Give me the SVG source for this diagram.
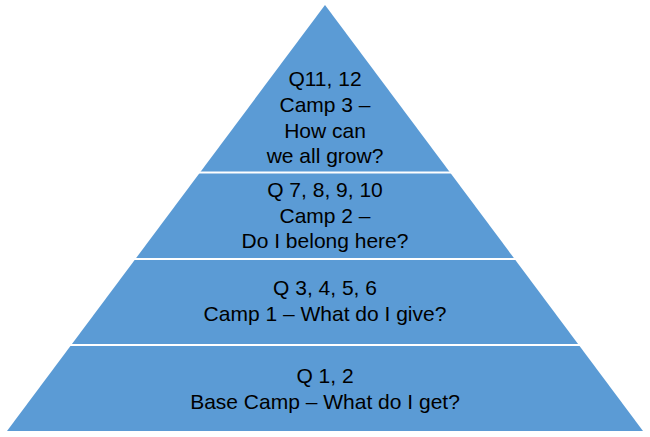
<svg xmlns="http://www.w3.org/2000/svg" width="650" height="437" viewBox="0 0 650 437">
<style>
.lvl{fill:#5B9BD5;}
.sep{stroke:#FFFFFF;stroke-width:2;}
.t{font-family:"Liberation Sans",Arial,sans-serif;font-size:21px;fill:#000000;text-anchor:middle;}
</style>
<rect width="650" height="437" fill="#FFFFFF"/>
<g id="pyramid">
<polygon class="lvl" points="325,5 643,431 7,431"/>
</g>
<g id="connectors">
<line class="sep" x1="190" y1="172.5" x2="460" y2="172.5"/>
<line class="sep" x1="125" y1="259" x2="525" y2="259"/>
<line class="sep" x1="60" y1="345" x2="590" y2="345"/>
</g>
<g id="level4">
<text class="t" x="325" y="86">Q11, 12</text>
<text class="t" x="325" y="112">Camp 3 –</text>
<text class="t" x="325" y="137.5">How can</text>
<text class="t" x="325" y="163">we all grow?</text>
</g>
<g id="level3">
<text class="t" x="325" y="197">Q 7, 8, 9, 10</text>
<text class="t" x="325" y="222.5">Camp 2 –</text>
<text class="t" x="325" y="248">Do I belong here?</text>
</g>
<g id="level2">
<text class="t" x="325" y="295">Q 3, 4, 5, 6</text>
<text class="t" x="325" y="321">Camp 1 – What do I give?</text>
</g>
<g id="level1">
<text class="t" x="325" y="383">Q 1, 2</text>
<text class="t" x="325" y="409">Base Camp – What do I get?</text>
</g>
</svg>
